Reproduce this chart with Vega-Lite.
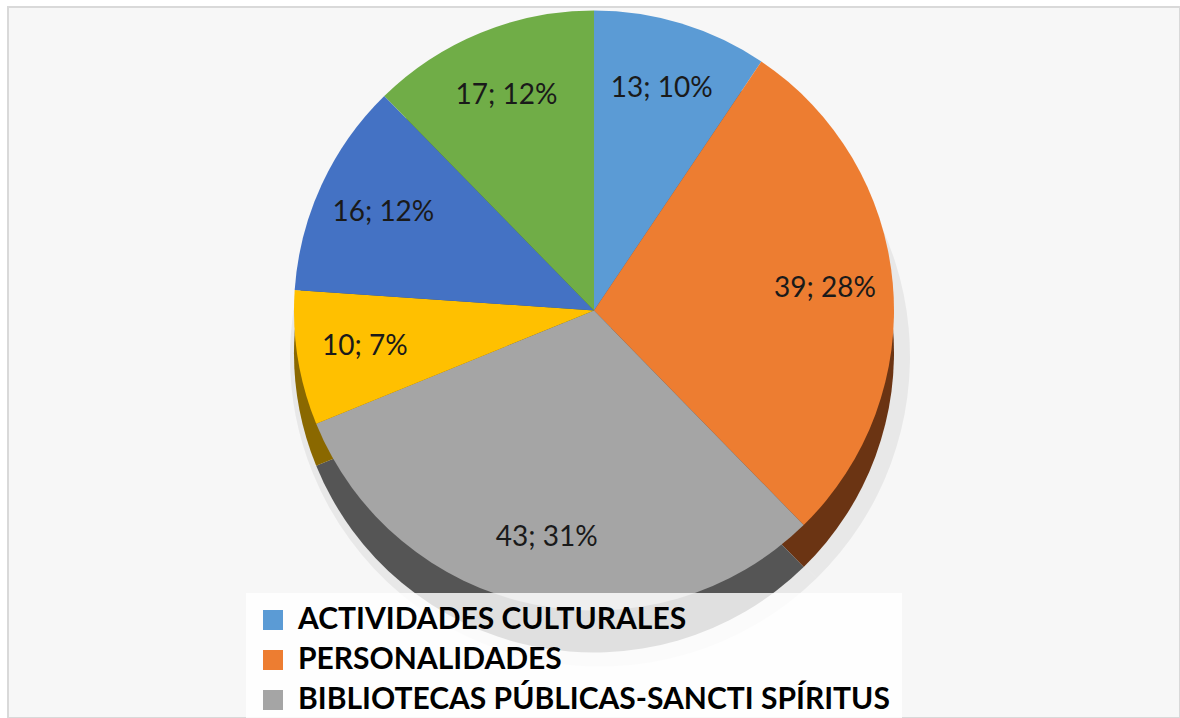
{
  "$schema": "https://vega.github.io/schema/vega-lite/v6.json",
  "width": 1172,
  "height": 711,
  "autosize": {"type": "none"},
  "padding": {"left": 8, "top": 7, "right": 0, "bottom": 0},
  "background": "#ffffff",
  "view": {"stroke": "#d9d9d9", "strokeWidth": 2, "fill": "#f7f7f7"},
  "data": {
    "values": [
      {"idx": 1, "cat": "ACTIVIDADES CULTURALES", "value": 13, "pct": 10},
      {"idx": 2, "cat": "PERSONALIDADES", "value": 39, "pct": 28},
      {"idx": 3, "cat": "BIBLIOTECAS PÚBLICAS-SANCTI SPÍRITUS", "value": 43, "pct": 31},
      {"idx": 4, "cat": "CATEGORÍA 4", "value": 10, "pct": 7},
      {"idx": 5, "cat": "CATEGORÍA 5", "value": 16, "pct": 12},
      {"idx": 6, "cat": "CATEGORÍA 6", "value": 17, "pct": 12}
    ]
  },
  "transform": [
    {"calculate": "datum.value + '; ' + datum.pct + '%'", "as": "label"}
  ],
  "encoding": {
    "theta": {"field": "value", "type": "quantitative", "stack": true},
    "order": {"field": "idx", "type": "quantitative"}
  },
  "layer": [
    {
      "mark": {"type": "arc", "outerRadius": 310, "yOffset": -6, "xOffset": 6, "fill": "#000000", "opacity": 0.06}
    },
    {
      "mark": {"type": "arc", "outerRadius": 300, "yOffset": -10},
      "encoding": {
        "color": {
          "field": "cat",
          "type": "nominal",
          "scale": {
            "domain": ["ACTIVIDADES CULTURALES", "PERSONALIDADES", "BIBLIOTECAS PÚBLICAS-SANCTI SPÍRITUS", "CATEGORÍA 4", "CATEGORÍA 5", "CATEGORÍA 6"],
            "range": ["#2f5f8a", "#6b3413", "#555555", "#8a6800", "#2a4676", "#436829"]
          },
          "legend": null
        }
      }
    },
    {
      "mark": {"type": "arc", "outerRadius": 300, "yOffset": -52},
      "encoding": {
        "color": {
          "field": "cat",
          "type": "nominal",
          "scale": {
            "domain": ["ACTIVIDADES CULTURALES", "PERSONALIDADES", "BIBLIOTECAS PÚBLICAS-SANCTI SPÍRITUS", "CATEGORÍA 4", "CATEGORÍA 5", "CATEGORÍA 6"],
            "range": ["#5b9bd5", "#ed7d31", "#a5a5a5", "#ffc000", "#4472c4", "#70ad47"]
          },
          "legend": {
            "title": null,
            "orient": "none",
            "legendX": 238,
            "legendY": 586,
            "direction": "vertical",
            "values": ["ACTIVIDADES CULTURALES", "PERSONALIDADES", "BIBLIOTECAS PÚBLICAS-SANCTI SPÍRITUS"],
            "symbolType": "square",
            "symbolSize": 400,
            "symbolStrokeWidth": 0,
            "labelFont": "Lato",
            "labelFontWeight": "bold",
            "labelFontSize": 30,
            "labelColor": "#000000",
            "labelLimit": 900,
            "labelOffset": 10,
            "rowPadding": 10,
            "padding": 12,
            "fillColor": "rgba(255,255,255,0.82)",
            "strokeColor": null
          }
        }
      }
    },
    {
      "mark": {"type": "text", "radius": 232, "yOffset": -52, "fontSize": 28, "font": "Lato", "color": "#1a1a1a"},
      "encoding": {
        "text": {"field": "label", "type": "nominal"}
      }
    }
  ],
  "resolve": {"scale": {"color": "independent"}}
}
